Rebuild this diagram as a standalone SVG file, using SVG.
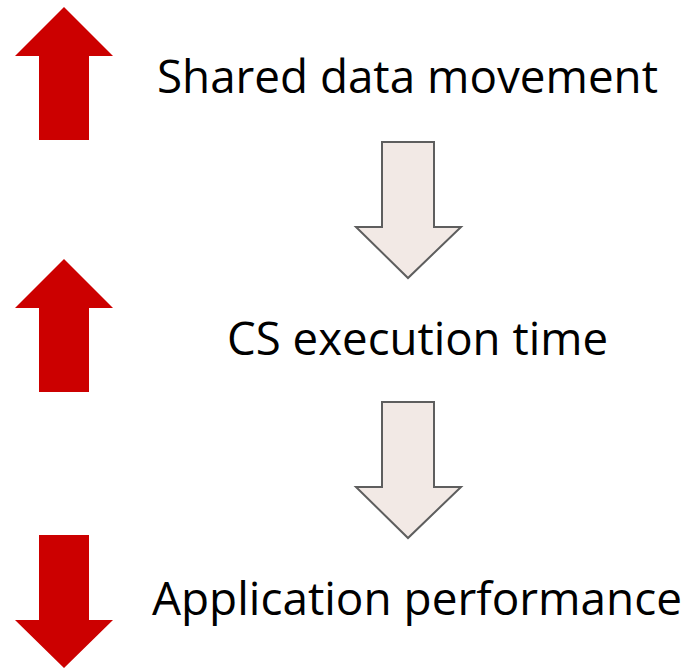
<svg xmlns="http://www.w3.org/2000/svg" width="689" height="669" viewBox="0 0 689 669">
  <style>
    .up, .down { fill: #cc0000; stroke: none; }
    .flow { fill: #f2e9e5; stroke: #5e5e5e; stroke-width: 2; stroke-linejoin: miter; }
    .label { font-family: "Open Sans", "Liberation Sans", sans-serif; font-size: 45px; fill: #000; }
  </style>
  <defs>
    <!-- red indicator arrows: tip at origin-relative coordinates -->
    <polygon id="redUp" points="64,0 113,49 89,49 89,133 39,133 39,49 15,49"/>
    <polygon id="redDown" points="39,0 89,0 89,85 113,85 64,133 15,85 39,85"/>
  </defs>
  <rect width="689" height="669" fill="#ffffff"/>

  <g id="shared-data-movement">
    <use href="#redUp" class="up" y="7"/>
    <text class="label" x="157" y="93" textLength="501" lengthAdjust="spacingAndGlyphs">Shared data movement</text>
  </g>

  <g id="cs-execution-time">
    <use href="#redUp" class="up" y="259"/>
    <text class="label" x="227" y="355" textLength="381" lengthAdjust="spacingAndGlyphs">CS execution time</text>
  </g>

  <g id="application-performance">
    <use href="#redDown" class="down" y="535"/>
    <text class="label" x="152" y="615" textLength="530" lengthAdjust="spacingAndGlyphs">Application performance</text>
  </g>

  <g id="connectors">
    <polygon class="flow" points="382,142 434,142 434,227 461,227 408,278 356,227 382,227"/>
    <polygon class="flow" points="382,402 434,402 434,487 461,487 408,538 356,487 382,487"/>
  </g>
</svg>
